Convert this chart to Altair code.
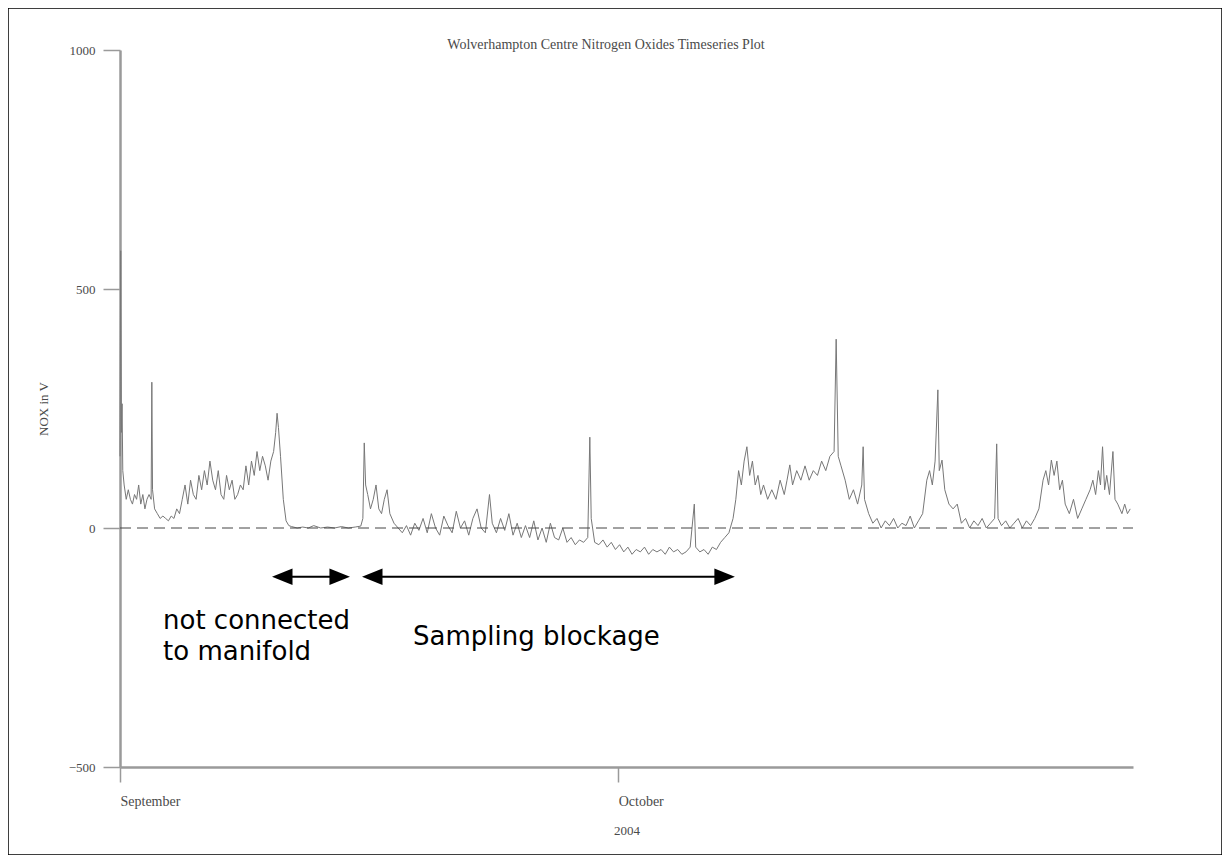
import altair as alt
import pandas as pd

# ---- data (hours since 2004-09-01 00:00, NOx value) ----
seg_sep_early = [
    (0, 150), (1, 580), (2, 200), (3, 260), (4, 120), (6, 90), (9, 60), (12, 80), (15, 60), (18, 50),
    (21, 70), (24, 60), (27, 90), (30, 50), (33, 70), (36, 40), (39, 60), (42, 70), (45, 60), (46, 305),
    (47, 80), (50, 40), (54, 30), (58, 20), (62, 25), (66, 20), (70, 15), (74, 25), (78, 20), (82, 40),
    (86, 30), (90, 60), (94, 90), (98, 50), (102, 100), (106, 70), (110, 60), (114, 110), (118, 80),
    (122, 120), (126, 90), (130, 140), (134, 100), (138, 80), (142, 120), (146, 70), (150, 60), (154, 110),
    (158, 80), (162, 100), (166, 60), (170, 70), (174, 90), (178, 80), (182, 130), (186, 90), (190, 140),
    (194, 110), (198, 160), (202, 120), (206, 150), (210, 130), (214, 100), (218, 140), (222, 160),
    (225, 200), (227, 240), (229, 210), (232, 150), (236, 60), (240, 15), (244, 5),
]
seg_disconnected = [
    (248, 3), (256, 0), (264, 2), (272, 0), (280, 5), (290, 0), (300, 2), (310, 0), (320, 3), (330, 0),
    (340, 2), (348, 4),
]
seg_blockage = [
    (351, 20), (353, 178), (355, 90), (358, 70), (362, 40), (366, 60), (370, 90), (374, 40), (378, 30),
    (382, 60), (386, 80), (390, 30), (396, 10), (402, 0), (408, -10), (414, 5), (420, -15), (426, 10),
    (432, -5), (438, 20), (444, -10), (450, 30), (456, 0), (462, -15), (468, 25), (474, 5), (480, -10),
    (486, 35), (492, 0), (498, 15), (504, -15), (510, 20), (516, 40), (522, 0), (528, -10), (534, 70),
    (538, 10), (544, -10), (550, 20), (556, -5), (562, 30), (568, -15), (574, 10), (580, -20), (586, 5),
    (592, -20), (598, 15), (604, -25), (610, 0), (616, -30), (622, 10), (628, -20), (634, -25), (640, 0),
    (646, -30), (652, -20), (658, -35), (664, -25), (670, -30), (676, -20), (679, 190), (681, 20),
    (686, -30), (692, -35), (698, -25), (704, -40), (710, -30), (716, -45), (722, -35), (728, -50),
    (734, -40), (740, -55), (746, -45), (752, -50), (758, -40), (764, -55), (770, -45), (776, -50),
    (782, -45), (788, -55), (794, -40), (800, -50), (806, -45), (812, -55), (818, -50), (824, -40),
    (830, 50), (832, -40), (838, -50), (844, -45), (850, -55), (856, -40), (862, -45), (868, -30),
    (874, -20), (880, -10), (886, 20),
]
seg_october = [
    (890, 60), (894, 120), (898, 90), (902, 140), (906, 170), (910, 110), (914, 140), (918, 90),
    (922, 110), (926, 70), (930, 90), (936, 60), (942, 80), (948, 60), (954, 100), (960, 70), (964, 100),
    (968, 132), (972, 90), (978, 120), (984, 100), (990, 130), (996, 100), (1002, 120), (1008, 110),
    (1014, 140), (1020, 120), (1026, 150), (1032, 160), (1035, 395), (1038, 150), (1042, 130),
    (1048, 100), (1054, 60), (1060, 80), (1066, 50), (1072, 90), (1074, 170), (1076, 60), (1082, 30),
    (1088, 10), (1094, 20), (1100, 0), (1106, 15), (1112, 5), (1118, 20), (1124, 0), (1130, 10),
    (1136, 5), (1142, 25), (1148, 0), (1154, 15), (1160, 30), (1166, 100), (1170, 120), (1174, 90),
    (1178, 140), (1182, 289), (1184, 120), (1188, 142), (1192, 80), (1198, 50), (1204, 40), (1210, 50),
    (1216, 10), (1222, 20), (1228, 0), (1234, 15), (1240, 5), (1246, 20), (1252, 0), (1258, 10),
    (1264, 20), (1267, 176), (1269, 20), (1274, 5), (1280, 15), (1286, 0), (1292, 10), (1298, 20),
    (1304, 0), (1310, 15), (1316, 5), (1322, 20), (1328, 40), (1334, 100), (1338, 120), (1342, 90),
    (1346, 142), (1350, 110), (1354, 140), (1358, 80), (1362, 100), (1366, 50), (1372, 30), (1378, 60),
    (1384, 20), (1390, 40), (1396, 60), (1402, 80), (1406, 100), (1410, 70), (1414, 120), (1417, 90),
    (1420, 170), (1423, 80), (1426, 110), (1430, 70), (1435, 160), (1438, 60), (1442, 50), (1448, 30),
    (1452, 50), (1456, 30), (1460, 40),
]

title_text = "Wolverhampton Centre Nitrogen Oxides Timeseries Plot"
y_title = "NOX in V"
x_title = "2004"
y_ticks = [-500, 0, 500, 1000]

# annotations: arrows (start day, end day) at a value level, and texts
arrow_level = -102
arrows = [(9.15, 13.85), (14.57, 37.03)]
notes = [
    (2.59, -195, "not connected"),
    (2.59, -260, "to manifold"),
    (17.64, -228, "Sampling blockage"),
]

# ---- build tables ----
start = pd.Timestamp("2004-09-01")
pts = seg_sep_early + seg_disconnected + seg_blockage + seg_october
df = pd.DataFrame({
    "time": [start + pd.Timedelta(hours=h) for h, _ in pts],
    "nox": [v for _, v in pts],
})

head_days = 0.62  # arrow head half-length expressed in days
arrow_rows = []
head_rows = []
for a, b in arrows:
    arrow_rows.append({"t1": start + pd.Timedelta(days=a + head_days),
                       "t2": start + pd.Timedelta(days=b - head_days),
                       "y": arrow_level})
    head_rows.append({"t": start + pd.Timedelta(days=a + head_days), "y": arrow_level, "dir": "L"})
    head_rows.append({"t": start + pd.Timedelta(days=b - head_days), "y": arrow_level, "dir": "R"})
arrow_df = pd.DataFrame(arrow_rows)
head_df = pd.DataFrame(head_rows)
note_df = pd.DataFrame([{"t": start + pd.Timedelta(days=d), "y": y, "text": t} for d, y, t in notes])
base_df = pd.DataFrame({"t1": [start], "t2": [pd.Timestamp("2004-11-01")], "y": [0]})

W, H = 1214, 847
x_scale = alt.Scale(domain=[alt.DateTime(year=2004, month=9, date=1),
                            alt.DateTime(year=2004, month=11, date=1)],
                    range=[112, 1125])
y_scale = alt.Scale(domain=[-500, 1000], range=[759, 42])

serif = "Liberation Serif"
axis_col = "#9a9a9a"
lab_col = "#4a4a4a"

x_axis = alt.Axis(
    values=[alt.DateTime(year=2004, month=9, date=1), alt.DateTime(year=2004, month=10, date=1)],
    labelExpr="timeFormat(datum.value, '%B')",
    labelAlign="left", labelFont=serif, labelFontSize=14, labelColor=lab_col, labelPadding=12,
    tickSize=15, tickColor=axis_col, tickWidth=1.5,
    domainColor=axis_col, domainWidth=2.5,
    title=x_title, titleFont=serif, titleFontSize=13, titleFontWeight="normal", titleColor=lab_col,
    titlePadding=16, offset=759 - H, grid=False,
)
y_axis = alt.Axis(
    values=y_ticks, format="d", labelFont=serif, labelFontSize=13, labelColor=lab_col, labelPadding=8,
    tickSize=17, tickColor=axis_col, tickWidth=1.5,
    domainColor=axis_col, domainWidth=2.5,
    title=y_title, titleFont=serif, titleFontSize=13, titleFontWeight="normal", titleColor=lab_col,
    titlePadding=18, offset=-112, grid=False,
)

line = alt.Chart(df).mark_line(color="#777777", strokeWidth=1).encode(
    x=alt.X("time:T", scale=x_scale, axis=x_axis),
    y=alt.Y("nox:Q", scale=y_scale, axis=y_axis),
)

baseline = alt.Chart(base_df).mark_rule(color="#444444", strokeWidth=1, strokeDash=[11, 6]).encode(
    x=alt.X("t1:T", scale=x_scale), x2="t2:T", y=alt.Y("y:Q", scale=y_scale),
)

arrow_lines = alt.Chart(arrow_df).mark_rule(color="black", strokeWidth=2).encode(
    x=alt.X("t1:T", scale=x_scale), x2="t2:T", y=alt.Y("y:Q", scale=y_scale),
)
heads = alt.Chart(head_df).mark_point(filled=True, color="black", opacity=1, size=420).encode(
    x=alt.X("t:T", scale=x_scale), y=alt.Y("y:Q", scale=y_scale),
    shape=alt.Shape("dir:N", scale=alt.Scale(domain=["L", "R"],
                                             range=["M-1,0L1,-0.8L1,0.8Z", "M1,0L-1,-0.8L-1,0.8Z"]),
                    legend=None),
)
texts = alt.Chart(note_df).mark_text(align="left", baseline="middle", font="DejaVu Sans",
                                     fontSize=26, color="black").encode(
    x=alt.X("t:T", scale=x_scale), y=alt.Y("y:Q", scale=y_scale), text="text:N",
)

chart = alt.layer(line, baseline, arrow_lines, heads, texts).properties(
    width=W, height=H,
    title=alt.TitleParams(title_text, font=serif, fontSize=14, fontWeight="normal", color=lab_col,
                          offset=-51, dx=-9, anchor="middle", baseline="middle"),
    padding=0,
    background="white",
    autosize=alt.AutoSizeParams(type="none"),
).configure_view(stroke="black", strokeWidth=1.5)

chart.save("out.html", embed_options={"renderer": "svg", "actions": False})
